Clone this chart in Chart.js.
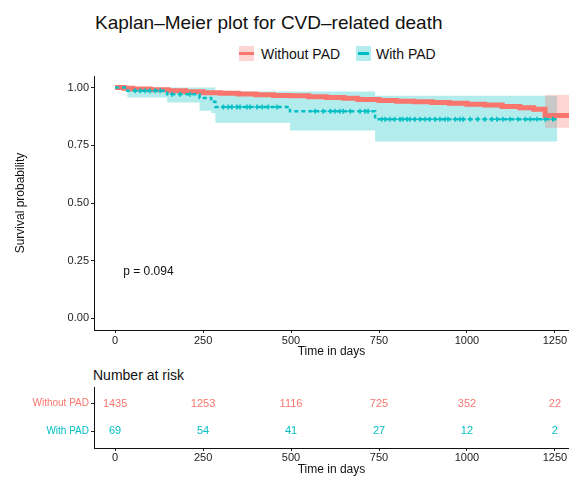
<!DOCTYPE html>
<html>
<head>
<meta charset="utf-8">
<script src="https://cdn.jsdelivr.net/npm/chart.js@4.4.1/dist/chart.umd.min.js"></script>
<style>
  body { margin: 0; background: #fff; font-family: "Liberation Sans", Arial, sans-serif; }
  #wrap { position: relative; width: 569px; height: 477px; overflow: hidden; }
  #title { position: absolute; left: 95px; top: 13px; font-size: 19px; line-height: 1; color: #111; white-space: nowrap; }
  .leg { position: absolute; top: 47px; font-size: 14px; line-height: 14px; color: #111; white-space: nowrap; }
  .sw { position: absolute; top: 46px; width: 15px; height: 15px; }
  .sw i { position: absolute; left: 0; right: 0; top: 6px; height: 3px; }
  #riskTitle { position: absolute; left: 93px; top: 368px; font-size: 14px; line-height: 14px; color: #111; }
  #main { position: absolute; left: 0; top: 0; }
  #risk { position: absolute; left: 0; top: 362px; }
</style>
</head>
<body>
<div id="wrap">
  <div id="title">Kaplan–Meier plot for CVD–related death</div>
  <div class="sw" style="left:239px;background:rgba(248,118,109,0.3)"><i style="background:#F8766D"></i></div>
  <div class="leg" style="left:261px">Without PAD</div>
  <div class="sw" style="left:356px;background:rgba(0,191,196,0.3)"><i style="background:#00BFC4;left:2px;right:2px"></i></div>
  <div class="leg" style="left:376px">With PAD</div>
  <canvas id="main" width="569" height="362"></canvas>
  <div id="riskTitle">Number at risk</div>
  <canvas id="risk" width="569" height="115"></canvas>
</div>
<script>
const RED = "#F8766D";
const TEAL = "#00BFC4";

const xTicks = [0, 250, 500, 750, 1000, 1250];
const yTicks = [0, 0.25, 0.5, 0.75, 1];
const groups = ["Without PAD", "With PAD"];

// Without PAD: survival estimate and confidence band
const noPadTime = [0, 25, 50, 100, 150, 200, 250, 300, 350, 400, 450, 500, 550, 600, 650, 690,
  750, 800, 850, 900, 950, 1000, 1050, 1100, 1150, 1190, 1222, 1290];
const noPadSurv = [1.000, 0.997, 0.994, 0.990, 0.986, 0.982, 0.978, 0.975, 0.972, 0.969, 0.966, 0.964,
  0.960, 0.957, 0.954, 0.948, 0.944, 0.941, 0.938, 0.935, 0.932, 0.928, 0.924, 0.918, 0.912, 0.906, 0.879, 0.879];
const noPadUpper = [1.000, 0.999, 0.997, 0.994, 0.990, 0.986, 0.983, 0.980, 0.977, 0.975, 0.972, 0.970,
  0.967, 0.964, 0.961, 0.955, 0.952, 0.949, 0.946, 0.943, 0.941, 0.937, 0.933, 0.928, 0.922, 0.916, 0.968, 0.968];
const noPadLower = [1.000, 0.995, 0.991, 0.986, 0.982, 0.978, 0.973, 0.970, 0.967, 0.963, 0.960, 0.958,
  0.953, 0.950, 0.947, 0.941, 0.936, 0.933, 0.930, 0.927, 0.923, 0.919, 0.915, 0.908, 0.902, 0.896, 0.826, 0.826];

// With PAD
const padTime = [0, 35, 148, 240, 273, 285, 497, 739, 1256];
const padSurv = [1.000, 0.986, 0.971, 0.955, 0.938, 0.916, 0.897, 0.863, 0.863];
const padUpper = [1.000, 1.000, 1.000, 1.000, 1.000, 0.983, 0.983, 0.965, 0.965];
const padLower = [1.000, 0.957, 0.935, 0.900, 0.890, 0.848, 0.814, 0.766, 0.766];
const padCensor = [57, 71, 85, 99, 114, 128, 162, 185, 213, 307, 321, 332, 346, 355, 375, 383, 403, 418,
  435, 460, 568, 591, 611, 625, 639, 648, 668, 696, 710, 719, 758, 767, 781, 795, 810, 818, 830, 838,
  852, 866, 881, 895, 909, 923, 938, 946, 966, 980, 989, 1009, 1031, 1051, 1071, 1085, 1102, 1122,
  1145, 1165, 1180, 1199, 1222, 1244];

// number at risk
const riskTimes = [0, 250, 500, 750, 1000, 1250];
const riskNoPad = [1435, 1253, 1116, 725, 352, 22];
const riskPad = [69, 54, 41, 27, 12, 2];

const pText = "p = 0.094";

Chart.defaults.font.family = '"Liberation Sans", Arial, sans-serif';
Chart.defaults.color = "#222";

function pts(xs, ys) {
  return xs.map((x, i) => ({ x: x, y: ys[i] }));
}
function padAt(t) {
  let v = padSurv[0];
  for (let i = 0; i < padTime.length; i++) if (padTime[i] <= t) v = padSurv[i];
  return v;
}

const band = { stepped: true, borderWidth: 0, pointRadius: 0 };

const pLabel = {
  id: "pLabel",
  afterDatasetsDraw(chart) {
    const ctx = chart.ctx;
    ctx.save();
    ctx.font = '12px "Liberation Sans", Arial, sans-serif';
    ctx.fillStyle = "#111";
    ctx.textBaseline = "middle";
    ctx.fillText(pText, chart.scales.x.getPixelForValue(23), chart.scales.y.getPixelForValue(0.203));
    ctx.restore();
  }
};

new Chart(document.getElementById("main"), {
  type: "line",
  data: {
    datasets: [
      { ...band, data: pts(padTime, padUpper), fill: false, order: 4 },
      { ...band, data: pts(padTime, padLower), fill: "-1", backgroundColor: "rgba(0,191,196,0.3)", order: 4 },
      { ...band, data: pts(noPadTime, noPadUpper), fill: false, order: 3 },
      { ...band, data: pts(noPadTime, noPadLower), fill: "-1", backgroundColor: "rgba(248,118,109,0.3)", order: 3 },
      { data: pts(noPadTime, noPadSurv), stepped: true, borderColor: RED, borderWidth: 5, pointRadius: 0, fill: false, order: 2 },
      { data: pts(padTime, padSurv), stepped: true, borderColor: TEAL, borderWidth: 2.5, borderDash: [4, 3], pointRadius: 0, fill: false, order: 1 },
      { data: padCensor.map(t => ({ x: t, y: padAt(t) })), showLine: false, pointStyle: "cross",
        pointRadius: 2.5, borderColor: TEAL, borderWidth: 1.5, order: 0 }
    ]
  },
  options: {
    responsive: false,
    animation: false,
    layout: { autoPadding: false, padding: { top: 76, left: 0, right: 0, bottom: 0 } },
    plugins: { legend: { display: false }, tooltip: { enabled: false } },
    scales: {
      x: {
        type: "linear", min: -60, max: 1290,
        afterBuildTicks: s => { s.ticks = xTicks.map(v => ({ value: v })); },
        afterFit: s => { s.height = 32; },
        grid: { drawOnChartArea: false, tickLength: 3, color: "#222" },
        border: { color: "#111", width: 1 },
        ticks: { font: { size: 11 }, padding: 1, maxRotation: 0, callback: v => String(v) },
        title: { display: true, text: "Time in days", font: { size: 12 }, color: "#111", padding: { top: 0, bottom: 3 } }
      },
      y: {
        min: -0.05, max: 1.05,
        afterBuildTicks: s => { s.ticks = yTicks.map(v => ({ value: v })); },
        afterFit: s => { s.width = 94; },
        grid: { drawOnChartArea: false, tickLength: 3, color: "#222" },
        border: { color: "#111", width: 1 },
        ticks: { font: { size: 11 }, padding: 2, callback: v => v.toFixed(2) },
        title: { display: true, text: "Survival probability", font: { size: 12 }, color: "#111", padding: { top: 13, bottom: 0 } }
      }
    }
  },
  plugins: [pLabel]
});

const riskText = {
  id: "riskText",
  afterDatasetsDraw(chart) {
    const ctx = chart.ctx;
    ctx.save();
    ctx.font = '11px "Liberation Sans", Arial, sans-serif';
    ctx.textAlign = "center";
    ctx.textBaseline = "middle";
    chart.data.datasets.forEach((ds, i) => {
      ctx.fillStyle = ds.textColor;
      chart.getDatasetMeta(i).data.forEach((pt, j) => ctx.fillText(String(ds.counts[j]), pt.x, pt.y));
    });
    ctx.restore();
  }
};

new Chart(document.getElementById("risk"), {
  type: "scatter",
  data: {
    datasets: [
      { data: riskTimes.map(t => ({ x: t, y: 2 })), counts: riskNoPad, textColor: RED, pointRadius: 0 },
      { data: riskTimes.map(t => ({ x: t, y: 1 })), counts: riskPad, textColor: TEAL, pointRadius: 0 }
    ]
  },
  options: {
    responsive: false,
    animation: false,
    layout: { autoPadding: false, padding: { top: 25, left: 0, right: 0, bottom: 0 } },
    plugins: { legend: { display: false }, tooltip: { enabled: false } },
    scales: {
      x: {
        type: "linear", min: -60, max: 1290,
        afterBuildTicks: s => { s.ticks = xTicks.map(v => ({ value: v })); },
        afterFit: s => { s.height = 29; },
        grid: { drawOnChartArea: false, tickLength: 3, color: "#222" },
        border: { color: "#111", width: 1 },
        ticks: { font: { size: 11 }, padding: 0, maxRotation: 0, callback: v => String(v) },
        title: { display: true, text: "Time in days", font: { size: 12 }, color: "#111", padding: { top: 0, bottom: 0 } }
      },
      y: {
        min: 0.4, max: 2.6,
        afterBuildTicks: s => { s.ticks = [{ value: 1 }, { value: 2 }]; },
        afterFit: s => { s.width = 94; },
        grid: { drawOnChartArea: false, tickLength: 3, color: "#222" },
        border: { color: "#111", width: 1 },
        ticks: {
          font: { size: 10 }, padding: 2,
          color: c => (c.tick && c.tick.value === 2 ? RED : TEAL),
          callback: v => (v === 2 ? groups[0] : groups[1])
        }
      }
    }
  },
  plugins: [riskText]
});
</script>
</body>
</html>
